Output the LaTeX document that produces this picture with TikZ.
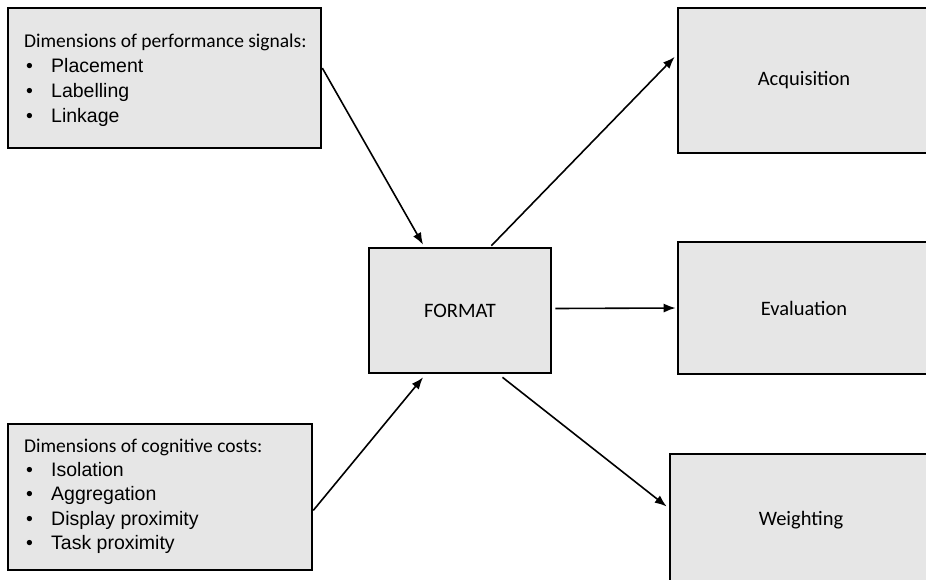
\documentclass[tikz,border=0pt]{standalone}
\usepackage{fontspec}
\setmainfont{Carlito}
\newfontfamily\arialf{Liberation Sans}
\usetikzlibrary{arrows.meta,calc}
\definecolor{boxgray}{RGB}{230,230,230}
\tikzset{
  box/.style={draw=black, line width=2.6pt, fill=boxgray, rectangle, inner sep=0pt},
  conn/.style={line width=1.6pt, -{Latex[length=12pt,width=9pt]}},
  head/.style={anchor=base west, inner sep=0pt, font=\fontsize{19.5}{22}\selectfont},
  item/.style={anchor=base west, inner sep=0pt, font=\arialf\fontsize{19.5}{22}\selectfont},
  bul/.style={anchor=base, inner sep=0pt, font=\arialf\fontsize{19.5}{22}\selectfont},
  lab/.style={font=\fontsize{20.5}{24}\selectfont}
}
\begin{document}
\begin{tikzpicture}[x=1pt,y=-1pt]
\useasboundingbox (0,0) rectangle (926,579);
\clip (0,0) rectangle (926,579);
% boxes
\node[box, minimum width=313pt, minimum height=140pt] (sig) at (164.5,78) {};
\node[box, minimum width=304pt, minimum height=146pt] (cog) at (160,497) {};
\node[box, minimum width=182pt, minimum height=125pt, lab] (fmt) at (460,310.5) {FORMAT};
\node[box, minimum width=252pt, minimum height=145pt, lab] (acq) at (804,80.5) {Acquisition};
\node[box, minimum width=252pt, minimum height=132pt, lab] (eva) at (804,308) {Evaluation};
\node[box, minimum width=262pt, minimum height=132pt, lab] (wei) at (801,520) {Weighting};
% texts top-left
\node[head] (sigt) at (24,47) {Dimensions of performance signals:};
\node[bul] (sb1) at (29.5,72) {•};
\node[item] (si1) at (51,72) {Placement};
\node[bul] (sb2) at (29.5,97) {•};
\node[item] (si2) at (51,97) {Labelling};
\node[bul] (sb3) at (29.5,122) {•};
\node[item] (si3) at (51,122) {Linkage};
% texts bottom-left
\node[head] (cogt) at (24,452) {Dimensions of cognitive costs:};
\node[bul] (cb1) at (29.5,476) {•};
\node[item] (ci1) at (51,476) {Isolation};
\node[bul] (cb2) at (29.5,500.5) {•};
\node[item] (ci2) at (51,500.5) {Aggregation};
\node[bul] (cb3) at (29.5,525) {•};
\node[item] (ci3) at (51,525) {Display proximity};
\node[bul] (cb4) at (29.5,549.5) {•};
\node[item] (ci4) at (51,549.5) {Task proximity};
% connectors
\draw[conn] ($(sig.north east)!0.43!(sig.south east)$) -- ($(fmt.north west)!0.30!(fmt.north east)+(0,-2)$);
\draw[conn] ($(cog.north east)!0.59!(cog.south east)$) -- ($(fmt.south west)!0.30!(fmt.south east)+(0,3)$);
\draw[conn] ($(fmt.north west)!0.67!(fmt.north east)+(0,-1)$) -- ($(acq.north west)!0.34!(acq.south west)+(-2,0)$);
\draw[conn] ($(fmt.east)+(3,-2)$) -- ($(eva.west)+(-1,0)$);
\draw[conn] ($(fmt.south west)!0.73!(fmt.south east)+(0,3)$) -- ($(wei.north west)!0.40!(wei.south west)+(-2,0)$);
\end{tikzpicture}
\end{document}
